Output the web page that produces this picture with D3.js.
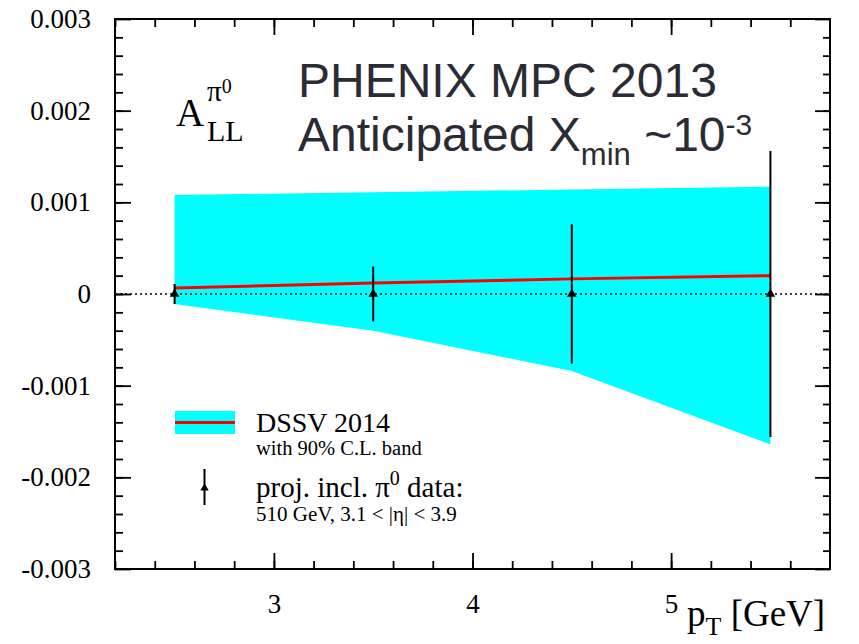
<!DOCTYPE html>
<html>
<head>
<meta charset="utf-8">
<script src="https://cdn.jsdelivr.net/npm/d3@7"></script>
<style>
  body { margin: 0; background: #fff; }
</style>
</head>
<body>
<svg id="chart" width="859" height="644"></svg>
<script>
// DSSV 2014 band and central curve
const bandPt = [2.5, 3.5, 4.5, 5.5];
const bandUpper = [0.00108, 0.00111, 0.00114, 0.00117];
const bandLower = [-0.00011, -0.0004, -0.00084, -0.00164];
const centralVal = [0.000065, 0.00012, 0.000165, 0.0002];

// projected pi0 points
const dataPt = [2.5, 3.5, 4.5, 5.5];
const dataVal = [0, 0, 0, 0];
const dataErr = [0.00011, 0.0003, 0.00076, 0.00156];

const xMajor = [3, 4, 5];
const yMajor = [-0.003, -0.002, -0.001, 0, 0.001, 0.002, 0.003];

const svg = d3.select("#chart");

var x = d3.scaleLinear().domain([2.2, 5.8]).range([115, 830]);
var y = d3.scaleLinear().domain([-0.003, 0.003]).range([569, 19]);

const xMinor = d3.range(11, 29).map(function (d) { return d / 5; });
const yMinor = d3.range(-14, 15).map(function (d) { return d / 5000; });

const serif = "Liberation Serif";
const sans = "Liberation Sans";

// band
var band = bandPt.map(function (p, i) {
  return { x: p, lo: bandLower[i], hi: bandUpper[i] };
});
svg.append("path")
  .datum(band)
  .attr("fill", "#00ffff")
  .attr("d", d3.area()
    .x(function (d) { return x(d.x); })
    .y0(function (d) { return y(d.lo); })
    .y1(function (d) { return y(d.hi); }));

// zero line
svg.append("line")
  .attr("x1", x(2.2)).attr("x2", x(5.8))
  .attr("y1", y(0)).attr("y2", y(0))
  .attr("stroke", "black")
  .attr("stroke-width", 1.5)
  .attr("stroke-dasharray", "2,3");

// central curve
svg.append("path")
  .datum(bandPt.map(function (p, i) { return [p, centralVal[i]]; }))
  .attr("fill", "none")
  .attr("stroke", "#ff0000")
  .attr("stroke-width", 3)
  .attr("d", d3.line()
    .x(function (d) { return x(d[0]); })
    .y(function (d) { return y(d[1]); }));

// error bars
var pts = dataPt.map(function (p, i) {
  return { x: p, v: dataVal[i], e: dataErr[i] };
});
svg.append("g")
  .selectAll("line")
  .data(pts)
  .enter()
  .append("line")
  .attr("x1", function (d) { return x(d.x); })
  .attr("x2", function (d) { return x(d.x); })
  .attr("y1", function (d) { return y(d.v + d.e); })
  .attr("y2", function (d) { return y(d.v - d.e); })
  .attr("stroke", "black")
  .attr("stroke-width", 2);

svg.append("g")
  .selectAll("path")
  .data(pts)
  .enter()
  .append("path")
  .attr("d", d3.symbol(d3.symbolTriangle).size(40))
  .attr("transform", function (d) {
    return "translate(" + x(d.x) + "," + y(d.v) + ")";
  })
  .attr("fill", "black");

// axes
function styleAxis(g, size) {
  g.select(".domain").remove();
  g.selectAll(".tick line").attr("stroke", "black").attr("stroke-width", 1.8);
  g.selectAll(".tick text")
    .attr("fill", "black")
    .style("font-family", serif)
    .style("font-size", size + "px");
}

var yFmt = function (d) { return d === 0 ? "0" : d.toFixed(3); };

svg.append("g").attr("transform", "translate(0,569)")
  .call(d3.axisBottom(x).tickValues(xMinor).tickSize(-8).tickFormat(""))
  .call(styleAxis, 27);
svg.append("g").attr("transform", "translate(0,569)")
  .call(d3.axisBottom(x).tickValues(xMajor).tickSize(-16).tickPadding(25).tickFormat(d3.format("d")))
  .call(styleAxis, 27);
svg.append("g").attr("transform", "translate(0,19)")
  .call(d3.axisTop(x).tickValues(xMinor).tickSize(-8).tickFormat(""))
  .call(styleAxis, 27);
svg.append("g").attr("transform", "translate(0,19)")
  .call(d3.axisTop(x).tickValues(xMajor).tickSize(-16).tickFormat(""))
  .call(styleAxis, 27);

svg.append("g").attr("transform", "translate(115,0)")
  .call(d3.axisLeft(y).tickValues(yMinor).tickSize(-8).tickFormat(""))
  .call(styleAxis, 27);
svg.append("g").attr("transform", "translate(115,0)")
  .call(d3.axisLeft(y).tickValues(yMajor).tickSize(-16).tickPadding(24).tickFormat(yFmt))
  .call(styleAxis, 27);
svg.append("g").attr("transform", "translate(830,0)")
  .call(d3.axisRight(y).tickValues(yMinor).tickSize(-7).tickFormat(""))
  .call(styleAxis, 27);
svg.append("g").attr("transform", "translate(830,0)")
  .call(d3.axisRight(y).tickValues(yMajor).tickSize(-15).tickFormat(""))
  .call(styleAxis, 27);

// frame
svg.append("rect")
  .attr("x", x(2.2)).attr("y", y(0.003))
  .attr("width", x(5.8) - x(2.2))
  .attr("height", y(-0.003) - y(0.003))
  .attr("fill", "none")
  .attr("stroke", "black")
  .attr("stroke-width", 2);

// x axis title
var xt = svg.append("text")
  .attr("x", 687).attr("y", 626)
  .style("font-family", serif).style("font-size", "37px").attr("fill", "black");
xt.append("tspan").text("p");
xt.append("tspan").attr("dy", 9).style("font-size", "26px").text("T");
xt.append("tspan").attr("dy", -9).text(" [GeV]");

// A_LL^pi0 label
svg.append("text").attr("x", 176).attr("y", 126)
  .style("font-family", serif).style("font-size", "39px").text("A");
svg.append("text").attr("x", 207).attr("y", 141)
  .style("font-family", serif).style("font-size", "30px").text("LL");
var pl = svg.append("text").attr("x", 207).attr("y", 101)
  .style("font-family", serif).style("font-size", "29px");
pl.append("tspan").text("π");
pl.append("tspan").attr("dy", -8).style("font-size", "20px").text("0");

// title
svg.append("text").attr("x", 298).attr("y", 97)
  .style("font-family", sans).style("font-size", "48px").attr("fill", "#2b2b35")
  .text("PHENIX MPC 2013");
var t2 = svg.append("text").attr("x", 298).attr("y", 151)
  .style("font-family", sans).style("font-size", "48px").attr("fill", "#2b2b35");
t2.append("tspan").text("Anticipated X");
t2.append("tspan").attr("dy", 14).style("font-size", "31px").text("min");
t2.append("tspan").attr("dy", -14).text(" ~10");
t2.append("tspan").attr("dy", -16).style("font-size", "30px").text("-3");

// legend
svg.append("rect").attr("x", 175).attr("y", 411).attr("width", 60).attr("height", 23)
  .attr("fill", "#00ffff");
svg.append("line").attr("x1", 175).attr("x2", 235).attr("y1", 422.5).attr("y2", 422.5)
  .attr("stroke", "#ff0000").attr("stroke-width", 3);
svg.append("text").attr("x", 256).attr("y", 432)
  .style("font-family", serif).style("font-size", "28px").text("DSSV 2014");
svg.append("text").attr("x", 256).attr("y", 455)
  .style("font-family", serif).style("font-size", "20.5px").text("with 90% C.L. band");

svg.append("line").attr("x1", 204.5).attr("x2", 204.5).attr("y1", 469).attr("y2", 505)
  .attr("stroke", "black").attr("stroke-width", 2);
svg.append("path").attr("d", d3.symbol(d3.symbolTriangle).size(30))
  .attr("transform", "translate(204.5,488)").attr("fill", "black");

var l2 = svg.append("text").attr("x", 256).attr("y", 497)
  .style("font-family", serif).style("font-size", "29px");
l2.append("tspan").text("proj. incl. π");
l2.append("tspan").attr("dy", -12).style("font-size", "20px").text("0");
l2.append("tspan").attr("dy", 12).text(" data:");
svg.append("text").attr("x", 256).attr("y", 521)
  .style("font-family", serif).style("font-size", "21px").text("510 GeV, 3.1 < |η| < 3.9");
</script>
</body>
</html>
